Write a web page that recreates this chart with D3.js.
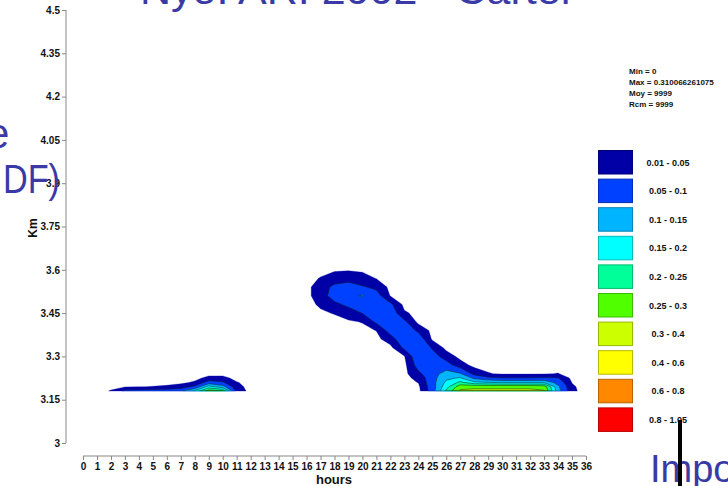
<!DOCTYPE html>
<html>
<head>
<meta charset="utf-8">
<script src="https://cdn.jsdelivr.net/npm/d3@7"></script>
<style>
  html, body { margin: 0; padding: 0; background: #fff; }
  svg { display: block; }
  text { font-family: "Liberation Sans", Arial, sans-serif; }
</style>
</head>
<body>
<svg id="chart" width="728" height="486"></svg>
<script>
// ---------- DATA ----------
const hours = [0,1,2,3,4,5,6,7,8,9,10,11,12,13,14,15,16,17,18,19,20,21,22,23,24,25,26,27,28,29,30,31,32,33,34,35,36];
const heights = [3.18,3.195,3.21,3.225,3.24,3.27,3.30,3.33,3.36,3.39,3.42,3.45,3.48,3.51,3.54,3.57,3.60,3.62];
const yTicks = [3,3.15,3.3,3.45,3.6,3.75,3.9,4.05,4.2,4.35,4.5];
const yTickLabels = ["3","3.15","3.3","3.45","3.6","3.75","3.9","4.05","4.2","4.35","4.5"];
const levels = [0.01,0.05,0.1,0.15,0.2,0.25,0.3,0.4,0.6,0.8];
const legendLabels = ["0.01 - 0.05","0.05 - 0.1","0.1 - 0.15","0.15 - 0.2","0.2 - 0.25","0.25 - 0.3","0.3 - 0.4","0.4 - 0.6","0.6 - 0.8","0.8 - 1.05"];
const levelColors = ["#0000A6","#0040FF","#00B4FF","#00FFFF","#00FF99","#50FF00","#CCFF00","#FFFF00","#FF8800","#FF0000"];
const stats = ["Min = 0","Max = 0.310066261075","Moy = 9999","Rcm = 9999"];

// density per hour column, values from bottom (3.18 km) to top (3.62 km)
const columns = [
  [0,0,0,0,0,0,0,0,0,0,0,0,0,0,0,0,0,0],                         // 0
  [0,0,0,0,0,0,0,0,0,0,0,0,0,0,0,0,0,0],                         // 1
  [0.012,0.003,0,0,0,0,0,0,0,0,0,0,0,0,0,0,0,0],                 // 2
  [0.06,0.008,0,0,0,0,0,0,0,0,0,0,0,0,0,0,0,0],                  // 3
  [0.065,0.009,0,0,0,0,0,0,0,0,0,0,0,0,0,0,0,0],                 // 4
  [0.07,0.011,0,0,0,0,0,0,0,0,0,0,0,0,0,0,0,0],                  // 5
  [0.075,0.015,0,0,0,0,0,0,0,0,0,0,0,0,0,0,0,0],                 // 6
  [0.09,0.025,0.003,0,0,0,0,0,0,0,0,0,0,0,0,0,0,0],              // 7
  [0.16,0.06,0.015,0,0,0,0,0,0,0,0,0,0,0,0,0,0,0],               // 8
  [0.28,0.17,0.07,0.02,0,0,0,0,0,0,0,0,0,0,0,0,0,0],             // 9
  [0.25,0.12,0.055,0.02,0,0,0,0,0,0,0,0,0,0,0,0,0,0],            // 10
  [0.03,0.02,0.012,0,0,0,0,0,0,0,0,0,0,0,0,0,0,0],               // 11
  [0,0,0,0,0,0,0,0,0,0,0,0,0,0,0,0,0,0],                         // 12
  [0,0,0,0,0,0,0,0,0,0,0,0,0,0,0,0,0,0],                         // 13
  [0,0,0,0,0,0,0,0,0,0,0,0,0,0,0,0,0,0],                         // 14
  [0,0,0,0,0,0,0,0,0,0,0,0,0,0,0,0,0,0],                         // 15
  [0,0,0,0,0,0,0,0,0,0,0,0,0,0,0,0,0,0],                         // 16
  [0,0,0,0,0,0,0,0,0,0,0,0.005,0.015,0.03,0.03,0.012,0,0],       // 17
  [0,0,0,0,0,0,0,0,0,0,0,0.012,0.04,0.07,0.06,0.03,0.005,0],     // 18
  [0,0,0,0,0,0,0,0,0,0,0.005,0.03,0.06,0.09,0.07,0.035,0.007,0], // 19
  [0,0,0,0,0,0,0,0,0,0,0.012,0.052,0.075,0.103,0.055,0.025,0.004,0], // 20
  [0,0,0,0,0,0,0,0,0,0.011,0.06,0.08,0.08,0.07,0.04,0.009,0,0],  // 21
  [0,0,0,0,0,0,0,0,0.03,0.07,0.08,0.08,0.06,0.008,0,0,0,0],      // 22
  [0,0,0,0,0,0,0.008,0.06,0.085,0.085,0.06,0.015,0,0,0,0,0,0],   // 23
  [0,0.003,0.011,0.02,0.04,0.07,0.085,0.09,0.08,0.04,0,0,0,0,0,0,0,0], // 24
  [0.07,0.075,0.08,0.08,0.08,0.075,0.07,0.045,0.005,0,0,0,0,0,0,0,0,0], // 25
  [0.21,0.18,0.16,0.14,0.12,0.07,0.03,0,0,0,0,0,0,0,0,0,0,0],    // 26
  [0.31,0.28,0.21,0.155,0.105,0.025,0,0,0,0,0,0,0,0,0,0,0,0],    // 27
  [0.31,0.29,0.16,0.09,0.035,0,0,0,0,0,0,0,0,0,0,0,0,0],         // 28
  [0.31,0.29,0.15,0.06,0.012,0,0,0,0,0,0,0,0,0,0,0,0,0],         // 29
  [0.31,0.29,0.14,0.052,0.006,0,0,0,0,0,0,0,0,0,0,0,0,0],        // 30
  [0.31,0.29,0.14,0.052,0.006,0,0,0,0,0,0,0,0,0,0,0,0,0],        // 31
  [0.31,0.29,0.14,0.052,0.006,0,0,0,0,0,0,0,0,0,0,0,0,0],        // 32
  [0.305,0.28,0.14,0.055,0.008,0,0,0,0,0,0,0,0,0,0,0,0,0],       // 33
  [0.12,0.11,0.08,0.052,0.011,0,0,0,0,0,0,0,0,0,0,0,0,0],        // 34
  [0.016,0.014,0.009,0,0,0,0,0,0,0,0,0,0,0,0,0,0,0],             // 35
  [0,0,0,0,0,0,0,0,0,0,0,0,0,0,0,0,0,0]                          // 36
];

// ---------- CHART ----------
const svg = d3.select("#chart");
const x = d3.scaleLinear().domain([0, 36]).range([83, 586]);
const y = d3.scaleLinear().domain([3, 4.5]).range([443, 10]);

const nx = hours.length, ny = heights.length;
const grid = new Array(nx * ny);
for (let j = 0; j < ny; j++) for (let i = 0; i < nx; i++) grid[j * nx + i] = columns[i][j];

const colIdx = d3.scaleLinear().domain([0, nx - 1]).range([hours[0], hours[nx - 1]]).clamp(true);
const rowIdx = d3.scaleLinear().domain(heights.map((d, i) => i)).range(heights).clamp(true);

const contours = d3.contours().size([nx, ny]).thresholds(levels)(grid);
const path = d3.geoPath(d3.geoTransform({
  point(cx, cy) { this.stream.point(x(colIdx(cx - 0.5)), y(rowIdx(cy - 0.5))); }
}));

const defs = svg.append("defs");
defs.append("clipPath").attr("id", "lineclip")
  .append("rect").attr("x", 0).attr("y", 0).attr("width", 728).attr("height", y(heights[0]) - 0.6);

const gFill = svg.append("g");
gFill.selectAll("path").data(contours).join("path")
  .attr("d", path)
  .attr("fill", (d, i) => levelColors[i])
  .attr("stroke", (d, i) => levelColors[i])
  .attr("stroke-width", 0.3);

svg.append("g").attr("clip-path", "url(#lineclip)")
  .selectAll("path").data(contours.slice(1)).join("path")
  .attr("d", path)
  .attr("fill", "none")
  .attr("stroke", "#111")
  .attr("stroke-width", 0.5);

// Y axis
const yAxis = svg.append("g").attr("transform", "translate(66,0)")
  .call(d3.axisLeft(y).tickValues(yTicks).tickSize(4).tickPadding(2)
    .tickFormat((d, i) => yTickLabels[i]));
yAxis.select(".domain").attr("stroke", "#888").attr("d", `M0,${y(4.5)}V${y(3)}`);
yAxis.selectAll(".tick line").attr("stroke", "#888");
yAxis.selectAll("text").attr("font-size", 10).attr("font-weight", "bold").attr("fill", "#111")
  .attr("font-family", "Liberation Sans, Arial, sans-serif");

// X axis
const xAxis = svg.append("g").attr("transform", "translate(0,456)")
  .call(d3.axisBottom(x).tickValues(hours).tickSize(4).tickPadding(3).tickFormat(d => String(d)));
xAxis.select(".domain").attr("stroke", "#888").attr("d", `M${x(0)},0H${x(36)}`);
xAxis.selectAll(".tick line").attr("stroke", "#888");
xAxis.selectAll("text").attr("font-size", 10).attr("font-weight", "bold").attr("fill", "#111")
  .attr("font-family", "Liberation Sans, Arial, sans-serif");

svg.append("text").attr("x", 334).attr("y", 484).attr("text-anchor", "middle")
  .attr("font-size", 13).attr("font-weight", "bold").attr("fill", "#111").text("hours");
svg.append("text").attr("transform", "translate(37,228) rotate(-90)").attr("text-anchor", "middle")
  .attr("font-size", 12).attr("font-weight", "bold").attr("fill", "#111").text("Km");

// Stats
svg.append("g").selectAll("text").data(stats).join("text")
  .attr("x", 629).attr("y", (d, i) => 74 + i * 11)
  .attr("font-size", 8).attr("font-weight", "bold").attr("fill", "#111").text(d => d);

// Legend
const lg = svg.append("g");
const boxTop = 150.5, step = 28.6;
lg.selectAll("rect").data(levelColors).join("rect")
  .attr("x", 598.5).attr("y", (d, i) => boxTop + i * step)
  .attr("width", 34).attr("height", 23.5)
  .attr("fill", d => d).attr("stroke", d => d3.color(d).darker(0.9)).attr("stroke-width", 1);
lg.selectAll("text").data(legendLabels).join("text")
  .attr("x", 668).attr("y", (d, i) => boxTop + i * step + 15)
  .attr("text-anchor", "middle").attr("font-size", 9).attr("font-weight", "bold").attr("fill", "#111")
  .text(d => d);

// Slide overlays
const ov = svg.append("g").attr("fill", "#3a3aa6").attr("font-family", "DejaVu Sans, sans-serif");
ov.append("text").attr("x", 140).attr("y", 4).attr("font-size", 40)
  .attr("textLength", 435).attr("lengthAdjust", "spacingAndGlyphs").text("Nyo: ARI 2002 - Carter");
ov.append("text").attr("x", -14).attr("y", 148).attr("font-size", 42).text("e");
ov.append("text").attr("x", 3).attr("y", 193).attr("font-size", 40)
  .attr("textLength", 57).attr("lengthAdjust", "spacingAndGlyphs").text("DF)");
ov.append("text").attr("x", 650).attr("y", 482).attr("font-size", 38).text("Impo");
svg.append("rect").attr("x", 678).attr("y", 420).attr("width", 4).attr("height", 66).attr("fill", "#000");
</script>
</body>
</html>
